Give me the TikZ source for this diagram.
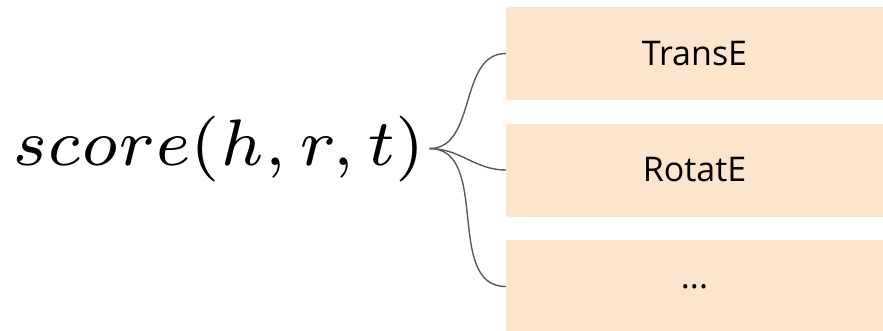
\documentclass[tikz,border=0pt]{standalone}
\usepackage{amsmath}
\usepackage{graphicx}
\usepackage{fontspec}
\setsansfont{Open Sans}
\usepackage{tikz}
\usetikzlibrary{positioning}
\usepackage{xcolor}
\definecolor{modelpeach}{HTML}{FCE4CD}
\definecolor{forkgrey}{HTML}{5A5A5A}

\begin{document}
\begin{tikzpicture}[x=1pt, y=-1pt,
  every node/.style={font=\sffamily\fontsize{34}{38}\selectfont},
  model/.style={fill=modelpeach, minimum width=377pt, minimum height=93pt,
    inner sep=0pt, align=center},
  fork/.style={draw=forkgrey, line width=1.4pt}]
\useasboundingbox (0,0) rectangle (883,330);
\node[inner xsep=4pt, inner ysep=0pt, anchor=base west] (score) at (8,165)
  {\scalebox{9.4}{\fontsize{7}{8}\selectfont$score(h,r,t)$}};
\node[model] (transe) at (694.5,53.5) {TransE};
\node[model] (rotate) at (694.5,170) {RotatE};
\node[model] (more) at (694.5,286.5) {...};
\foreach \dst in {transe, rotate, more} {
  \draw[fork] (score.east) to[out=0, in=180] (\dst.west);}
\end{tikzpicture}
\end{document}
